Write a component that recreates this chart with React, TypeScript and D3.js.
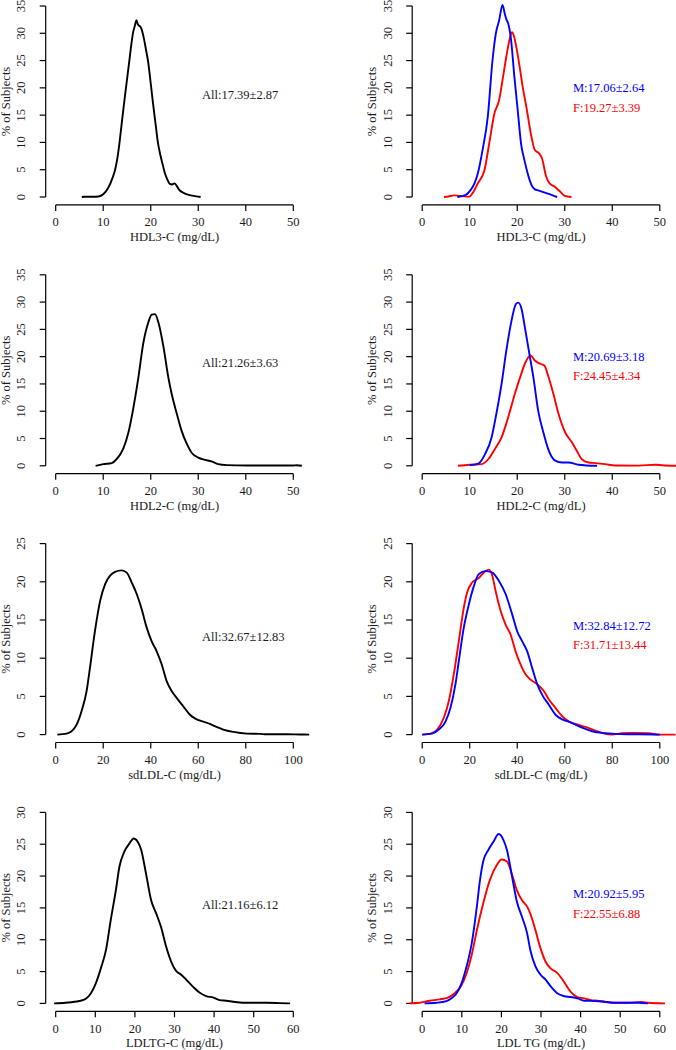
import React from 'react';
import * as d3 from 'd3';

// ---------- Data ----------
type Pt = [number, number];

const hdl3All: Pt[] = [[5.5,0],[6,0.05],[7,0.05],[8,0.05],[9,0.1],[10,0.5],[11,1.6],[12,3.6],[12.5,5],[13,7.2],[13.5,10.5],[14,14.3],[14.5,18],[15,21.5],[15.5,25],[16,28.5],[16.3,30.2],[16.6,31.2],[17,32.4],[17.3,31.6],[17.7,31.3],[18,30.9],[18.5,29.3],[19,27],[19.5,24.5],[20,20.8],[20.5,17],[21,13.5],[21.5,10],[22,7.8],[22.5,6],[23,4.3],[23.5,3.2],[24,2.4],[24.5,2.3],[25,2.5],[25.5,2],[26,1.3],[27,0.7],[28,0.4],[29,0.2],[30.5,0]];
const hdl3Male: Pt[] = [[7.4,0],[9.2,0.4],[10.2,1.3],[11,2.5],[11.7,4.3],[12.7,8.6],[13.8,14.7],[14.8,25.1],[15.5,30],[16.2,32.4],[16.9,35.2],[17.4,33.5],[17.7,32.6],[18.1,31.8],[18.7,28.8],[19.4,22],[20.1,15.9],[20.8,9.8],[21.5,6.8],[22.2,4.3],[23,2.2],[23.7,1.4],[24.4,1.2],[25.8,0.8],[27.2,0.4],[28.4,0]];
const hdl3Female: Pt[] = [[4.6,0],[5.5,0.1],[6.7,0.3],[7.8,0.2],[9.9,0.06],[10.6,0.7],[11.7,2.5],[13.1,4.9],[14.1,9.8],[15.2,15.3],[16.2,17.8],[16.9,21.4],[17.7,25.7],[18.3,28.5],[18.9,30.2],[19.3,29.5],[19.8,27.5],[20.5,23.9],[21.2,19.9],[21.9,16.6],[23,11],[23.7,8.6],[24.6,8],[25.2,7.1],[26.1,3.7],[26.8,2.5],[27.9,1.9],[29,1],[30,0.2],[31.4,0]];

const hdl2All: Pt[] = [[8.4,0],[10,0.3],[11.8,0.5],[12.8,1.2],[14.2,3.1],[15.3,6.1],[16.3,10.4],[17.4,16.2],[18.4,22.3],[19.5,26.3],[20.2,27.7],[20.9,27.8],[21.6,26.3],[22.7,21.7],[23.7,16.2],[24.4,13.2],[25.5,9.5],[26.5,6.4],[27.6,4],[28.6,2.4],[30,1.5],[31.4,1.1],[32.8,0.8],[34.2,0.3],[36,0.12],[40.2,0.05],[50,0.05],[50.7,0.1],[51.8,0]];
const hdl2Male: Pt[] = [[10,0.1],[11.8,0.4],[13.2,2.1],[14.6,5.2],[15.6,9.5],[16.7,15],[17.7,21.1],[18.8,26.6],[19.7,29.6],[20.2,29.9],[20.9,28.8],[21.6,25.4],[22.5,20.8],[23.4,16.2],[24.4,10.1],[25.5,6.1],[26.5,3.1],[27.9,1],[29.4,0.6],[30.8,0.6],[32.9,0.2],[36.8,0]];
const hdl2Female: Pt[] = [[7.5,0],[10,0.2],[12.5,0.3],[13.9,1.2],[15.3,3.1],[16.7,5.2],[18.1,8.9],[19.5,13.2],[20.6,16.2],[21.6,18.7],[22.8,20.2],[23.7,19.3],[24.8,18.7],[25.7,18.4],[26.5,16.5],[27.6,13.2],[28.7,9.5],[30.1,6.1],[31.5,4.3],[32.5,2.8],[33.6,1.2],[35,0.6],[36.4,0.5],[38.5,0.3],[40.6,0.05],[45.6,0.03],[49.1,0.2],[50.5,0.1],[53.5,0]];

const sdldlAll: Pt[] = [[0.7,0],[4.6,0.13],[6.7,0.44],[8.8,1.3],[10.9,3.1],[13,5.7],[14.4,8.7],[16.5,13.5],[18.7,17.5],[20.8,19.7],[22.9,20.8],[25,21.3],[27.8,21.5],[29.9,21.2],[32,19.9],[34.1,18.4],[36.2,16.4],[38.3,14],[40.4,12.2],[42.5,10.9],[44.6,9.2],[46.7,7],[48.8,5.7],[50.9,4.8],[53.7,3.7],[56.5,2.6],[59.3,2],[62.1,1.7],[64.9,1.4],[67.7,1],[70.5,0.66],[74.8,0.35],[80.4,0.13],[86,0.09],[88.8,0.04],[93,0.05],[97.2,0.04],[102.8,0.02],[106.7,0]];
const sdldlMale: Pt[] = [[0,0],[4.2,0.13],[7,0.66],[9.8,1.7],[11.9,3.5],[14,6.6],[15.4,9.6],[17.5,14],[19.6,17],[21.7,19.4],[23.8,21],[26.6,21.4],[29.5,21.2],[32.3,20.1],[35.1,18.4],[37.9,15.7],[40,13.5],[42.1,12.2],[44.2,10.9],[46.3,8.7],[48.4,6.6],[50.5,5.2],[53.3,3.9],[56.1,2.6],[58.9,2],[61.7,1.7],[64.5,1.3],[67.3,0.9],[71.5,0.44],[75.7,0.22],[79.9,0.13],[85.6,0.04],[91.2,0.04],[100,0]];
const sdldlFemale: Pt[] = [[0,0],[3.5,0.13],[6.3,0.66],[9.1,2.2],[11.2,4.4],[13.3,7.9],[15.4,12.2],[17.5,16.6],[18.9,18.6],[21,19.9],[23.8,20.5],[26.6,21.4],[28.1,21.6],[29.5,20.8],[30.9,18.8],[33,16.2],[35.1,14.4],[37.2,13.1],[39.3,10.9],[41.4,9.2],[43.5,7.9],[45.6,7.2],[48.4,6.6],[51.2,5.7],[53.3,4.6],[56.1,3.5],[58.9,2.4],[61.7,1.7],[64.5,1.4],[68.7,1],[72.9,0.52],[77.1,0.09],[79.9,0],[84.2,0.17],[88.4,0.22],[95.4,0.17],[99.6,0],[106.6,0]];

const ldltgAll: Pt[] = [[-0.4,0],[2.5,0.1],[5.9,0.37],[7.6,0.73],[8.9,1.6],[10.1,3.1],[11.4,5.5],[12.7,8.4],[13.9,13.1],[15.2,17.8],[16.1,21.5],[17.3,23.8],[18.6,25.1],[19.7,25.9],[20.7,25.4],[21.6,24.1],[22.8,20.4],[24.1,16.2],[25.4,14.1],[26.6,12],[27.9,8.9],[29.2,6.5],[30.4,5.1],[31.7,4.5],[33,3.7],[34.7,2.6],[36.3,1.7],[38,1.15],[39.7,0.94],[41.4,0.52],[43.1,0.42],[44.8,0.26],[47.3,0.1],[53.3,0.1],[56.6,0.05],[59.2,0]];
const ldltgMale: Pt[] = [[0.6,0],[3.6,0.1],[6.1,0.37],[7.4,0.8],[8.7,1.6],[9.9,3.1],[11.2,5.8],[12.5,9.4],[13.8,15.2],[14.6,19.4],[15.4,22.3],[16.7,24.1],[18,25.4],[19.3,26.6],[20.5,25.7],[21.4,24.1],[22.7,19.9],[23.9,16],[25.2,13.6],[26.5,11],[27.3,8.4],[28.6,5.8],[29.9,4.5],[31.2,3.7],[32.4,2.7],[34.1,1.6],[35.8,1.15],[37.5,1],[39.2,0.8],[40.9,0.42],[43.5,0.37],[46,0.26],[48.6,0.1],[54.5,0.1],[57,0]];
const ldltgFemale: Pt[] = [[-3.2,0],[-0.7,0.1],[1.9,0.42],[4.4,0.63],[6.5,0.9],[8.2,1.6],[9.7,2.6],[11.2,4.7],[12.5,7.6],[13.8,11.5],[15.4,15.7],[17.1,19.4],[18.8,21.7],[20.1,22.6],[21.4,22.3],[22.7,20.2],[23.9,17.8],[25.2,16.2],[26.5,15.2],[27.3,14.1],[28.6,11.5],[29.9,8.6],[31.2,6.5],[32.4,5.5],[34.1,4.8],[35.8,3.4],[37.5,1.8],[39.2,1],[40.9,0.8],[42.6,0.52],[44.3,0.42],[46,0.26],[48.6,0.1],[52,0.1],[55.3,0.21],[57,0.1],[61.3,0]];

// tick labels
const xTicks50 = [0, 10, 20, 30, 40, 50];
const xTicks100 = [0, 20, 40, 60, 80, 100];
const xTicks60 = [0, 10, 20, 30, 40, 50, 60];
const yTicks35 = [0, 5, 10, 15, 20, 25, 30, 35];
const yTicks25 = [0, 5, 10, 15, 20, 25];
const yTicks30 = [0, 5, 10, 15, 20, 25, 30];

const rowLabels = ['HDL3-C (mg/dL)', 'HDL2-C (mg/dL)', 'sdLDL-C (mg/dL)', 'LDLTG-C (mg/dL)'];
const rightLabels = ['HDL3-C (mg/dL)', 'HDL2-C (mg/dL)', 'sdLDL-C (mg/dL)', 'LDL TG (mg/dL)'];
const allStats = ['All:17.39±2.87', 'All:21.26±3.63', 'All:32.67±12.83', 'All:21.16±6.12'];
const maleStats = ['M:17.06±2.64', 'M:20.69±3.18', 'M:32.84±12.72', 'M:20.92±5.95'];
const femaleStats = ['F:19.27±3.39', 'F:24.45±4.34', 'F:31.71±13.44', 'F:22.55±6.88'];

const allSeries = [hdl3All, hdl2All, sdldlAll, ldltgAll];
const maleSeries = [hdl3Male, hdl2Male, sdldlMale, ldltgMale];
const femaleSeries = [hdl3Female, hdl2Female, sdldlFemale, ldltgFemale];
const xTickSets = [xTicks50, xTicks50, xTicks100, xTicks60];
const yTickSets = [yTicks35, yTicks35, yTicks25, yTicks30];

// ---------- Layout ----------
const FONT = '"Liberation Serif", "Times New Roman", Times, serif';
const FS = 12.5;
const COL_X = [0, 366.5];
const ZERO_Y = [197, 465.8, 734.6, 1003.4];
const Y_H = 191;
const AXIS_LEFT = 45.7;
const TICK0 = 55.7;
const TICKN = 293.3;
const BLUE = '#0000FF';
const RED = '#FF0000';
const TEXT = '#1a1a1a';
const allLabelDy = [102, 103, 98, 98.5];

type Series = { pts: Pt[]; color: string };
type Ann = { text: string; color: string; dy: number };

function Panel({ col, row, xTicks, yTicks, xLabel, series, anns, annX }: {
  col: number; row: number; xTicks: number[]; yTicks: number[]; xLabel: string;
  series: Series[]; anns: Ann[]; annX: number;
}) {
  const ox = COL_X[col];
  const zy = ZERO_Y[row];
  const x = d3.scaleLinear().domain([xTicks[0], xTicks[xTicks.length - 1]]).range([ox + TICK0, ox + TICKN]);
  const y = d3.scaleLinear().domain([0, yTicks[yTicks.length - 1]]).range([zy, zy - Y_H]);
  const line = d3.line<Pt>().x(d => x(d[0])).y(d => y(d[1])).curve(d3.curveMonotoneX);
  const axX = ox + AXIS_LEFT;
  const axY = zy + 7.9;
  const yMid = (y(0) + y(yTicks[yTicks.length - 1])) / 2;
  return (
    <g>
      {/* y axis */}
      <line x1={axX} x2={axX} y1={y(0)} y2={y(yTicks[yTicks.length - 1])} stroke="#000" strokeWidth={1.2} />
      {yTicks.map(t => (
        <g key={'y' + t}>
          <line x1={axX - 6} x2={axX} y1={y(t)} y2={y(t)} stroke="#000" strokeWidth={1.2} />
          <text x={axX - 24.5} y={y(t)} transform={`rotate(-90, ${axX - 24.5}, ${y(t)})`}
            textAnchor="middle" dominantBaseline="central" fill={TEXT} fontFamily={FONT} fontSize={FS}>{t}</text>
        </g>
      ))}
      <text x={axX - 40} y={yMid} transform={`rotate(-90, ${axX - 40}, ${yMid})`}
        textAnchor="middle" dominantBaseline="central" fill={TEXT} fontFamily={FONT} fontSize={FS}>% of Subjects</text>
      {/* x axis */}
      <line x1={x(xTicks[0])} x2={x(xTicks[xTicks.length - 1])} y1={axY} y2={axY} stroke="#000" strokeWidth={1.2} />
      {xTicks.map(t => (
        <g key={'x' + t}>
          <line x1={x(t)} x2={x(t)} y1={axY} y2={axY + 6} stroke="#000" strokeWidth={1.2} />
          <text x={x(t)} y={axY + 17.5} textAnchor="middle" dominantBaseline="central"
            fill={TEXT} fontFamily={FONT} fontSize={FS}>{t}</text>
        </g>
      ))}
      <text x={(x(xTicks[0]) + x(xTicks[xTicks.length - 1])) / 2} y={axY + 32} textAnchor="middle"
        dominantBaseline="central" fill={TEXT} fontFamily={FONT} fontSize={FS}>{xLabel}</text>
      {/* curves */}
      {series.map((s, i) => (
        <path key={'s' + i} d={line(s.pts) || ''} fill="none" stroke={s.color} strokeWidth={1.9}
          strokeLinejoin="round" />
      ))}
      {anns.map((a, i) => (
        <text key={'a' + i} x={ox + annX} y={zy - a.dy} dominantBaseline="central" fill={a.color}
          fontFamily={FONT} fontSize={FS}>{a.text}</text>
      ))}
    </g>
  );
}

export default function App() {
  return (
    <svg width={676} height={1050} viewBox="0 0 676 1050"
      style={{ display: 'block', position: 'absolute', left: 0, top: 0, background: '#fff' }}>
      <rect x={0} y={0} width={676} height={1050} fill="#fff" />
      {[0, 1, 2, 3].map(r => (
        <g key={'row' + r}>
          <Panel col={0} row={r} xTicks={xTickSets[r]} yTicks={yTickSets[r]} xLabel={rowLabels[r]}
            series={[{ pts: allSeries[r], color: '#000' }]}
            anns={[{ text: allStats[r], color: TEXT, dy: allLabelDy[r] }]} annX={202} />
          <Panel col={1} row={r} xTicks={xTickSets[r]} yTicks={yTickSets[r]} xLabel={rightLabels[r]}
            series={[{ pts: femaleSeries[r], color: RED }, { pts: maleSeries[r], color: BLUE }]}
            anns={[{ text: maleStats[r], color: BLUE, dy: 109 }, { text: femaleStats[r], color: RED, dy: 89.5 }]}
            annX={206.5} />
        </g>
      ))}
    </svg>
  );
}
